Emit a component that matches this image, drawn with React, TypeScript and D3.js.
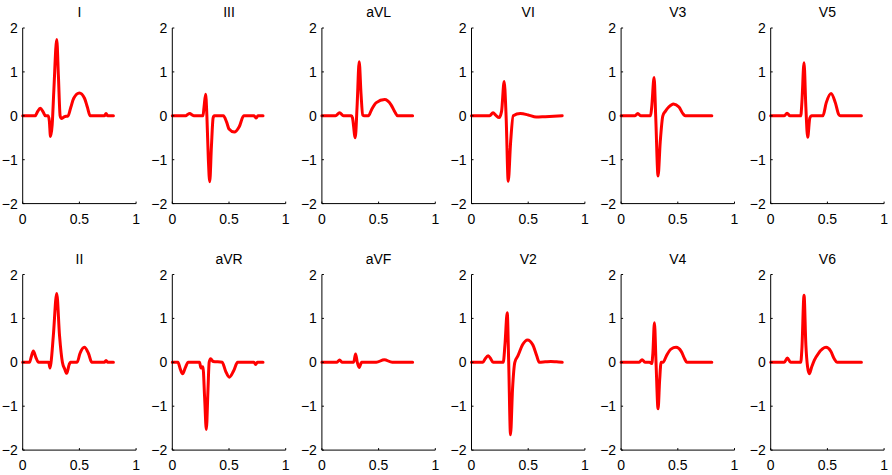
import React from 'react';
import * as d3 from 'd3';

type Pt = [number, number];

// lead traces: [time (s), amplitude (mV)]
const leadI: Pt[] = [[0,0],[0.11,0],[0.13,0.09],[0.155,0.17],[0.18,0.09],[0.2,0],[0.225,0],[0.235,-0.12],[0.245,-0.47],[0.26,-0.2],[0.275,0.6],[0.3,1.74],[0.315,0.9],[0.33,0],[0.34,-0.06],[0.37,-0.02],[0.4,0],[0.425,0.2],[0.45,0.4],[0.5,0.52],[0.545,0.4],[0.57,0.2],[0.595,0],[0.72,0],[0.735,0.05],[0.75,0],[0.8,0]];
const leadIII: Pt[] = [[0,0],[0.12,0],[0.135,0.03],[0.155,0.05],[0.175,0.02],[0.19,0],[0.27,0],[0.28,0.2],[0.294,0.49],[0.305,0],[0.318,-1.0],[0.33,-1.5],[0.345,-0.7],[0.36,-0.05],[0.37,0],[0.45,0],[0.48,-0.15],[0.5,-0.3],[0.547,-0.37],[0.59,-0.25],[0.63,0],[0.72,0],[0.74,-0.05],[0.755,0],[0.8,0]];
const leadAVL: Pt[] = [[0,0],[0.12,0],[0.156,0.07],[0.19,0],[0.26,0],[0.27,-0.05],[0.294,-0.5],[0.31,0.2],[0.329,1.23],[0.345,0.5],[0.36,0.02],[0.374,0],[0.41,0],[0.44,0.15],[0.48,0.3],[0.553,0.37],[0.61,0.25],[0.645,0.08],[0.668,0],[0.8,0]];
const leadV1: Pt[] = [[0,0],[0.16,0],[0.19,0.07],[0.215,0.01],[0.244,-0.04],[0.265,0.1],[0.288,0.78],[0.305,0],[0.324,-1.49],[0.345,-0.6],[0.368,0],[0.43,0.05],[0.5,0.02],[0.57,-0.03],[0.65,-0.02],[0.8,0]];
const leadV3: Pt[] = [[0,0],[0.12,0],[0.147,0.05],[0.175,0],[0.26,0],[0.27,0.2],[0.291,0.87],[0.305,0],[0.326,-1.37],[0.345,-0.6],[0.368,0],[0.39,0.1],[0.42,0.2],[0.462,0.27],[0.51,0.2],[0.545,0.05],[0.565,0],[0.8,0]];
const leadV5: Pt[] = [[0,0],[0.12,0],[0.144,0.06],[0.17,0],[0.265,0],[0.275,0.3],[0.294,1.21],[0.31,0.2],[0.326,-0.49],[0.345,-0.05],[0.36,0],[0.46,0],[0.49,0.3],[0.532,0.51],[0.57,0.3],[0.6,0.03],[0.615,0],[0.8,0]];
const leadII: Pt[] = [[0,0],[0.06,0],[0.075,0.12],[0.094,0.26],[0.115,0.12],[0.14,0],[0.23,0],[0.24,-0.13],[0.25,0],[0.27,0.6],[0.3,1.57],[0.325,0.6],[0.35,0],[0.37,-0.15],[0.388,-0.25],[0.41,-0.05],[0.42,0],[0.48,0],[0.505,0.2],[0.544,0.34],[0.58,0.2],[0.61,0],[0.72,0],[0.735,0.04],[0.75,0],[0.8,0]];
const leadAVR: Pt[] = [[0,0],[0.05,0],[0.07,-0.15],[0.091,-0.26],[0.115,-0.12],[0.14,0],[0.24,0],[0.253,-0.13],[0.27,-0.1],[0.285,-0.8],[0.3,-1.53],[0.315,-0.6],[0.325,0],[0.338,0.08],[0.36,0.02],[0.44,0],[0.47,-0.2],[0.503,-0.34],[0.54,-0.2],[0.576,0],[0.72,0],[0.735,-0.05],[0.75,0],[0.8,0]];
const leadAVF: Pt[] = [[0,0],[0.13,0],[0.156,0.05],[0.18,0],[0.28,0],[0.297,0.19],[0.312,0],[0.329,-0.12],[0.35,0],[0.48,0],[0.55,0.06],[0.62,0],[0.8,0]];
const leadV2: Pt[] = [[0,0],[0.1,0],[0.12,0.08],[0.147,0.15],[0.17,0.08],[0.19,0],[0.28,0],[0.295,0.4],[0.315,1.13],[0.328,0],[0.344,-1.65],[0.362,-0.6],[0.382,0],[0.41,0.15],[0.45,0.4],[0.494,0.51],[0.54,0.4],[0.575,0.15],[0.597,0],[0.65,0.01],[0.7,0.02],[0.75,0.01],[0.8,0]];
const leadV4: Pt[] = [[0,0],[0.16,0],[0.185,0.06],[0.21,0],[0.25,0],[0.27,-0.03],[0.28,0.2],[0.294,0.9],[0.308,0],[0.326,-1.06],[0.34,-0.4],[0.353,0],[0.37,0],[0.4,0.15],[0.44,0.3],[0.485,0.34],[0.53,0.25],[0.56,0.08],[0.58,0],[0.8,0]];
const leadV6: Pt[] = [[0,0],[0.12,0],[0.147,0.1],[0.175,0],[0.265,0],[0.275,0.3],[0.294,1.53],[0.31,0.4],[0.325,-0.1],[0.341,-0.26],[0.36,-0.12],[0.385,0.05],[0.42,0.2],[0.488,0.34],[0.53,0.25],[0.56,0.08],[0.585,0],[0.8,0]];

const leadNames = ['I', 'III', 'aVL', 'VI', 'V3', 'V5', 'II', 'aVR', 'aVF', 'V2', 'V4', 'V6'];
const leadData = [leadI, leadIII, leadAVL, leadV1, leadV3, leadV5, leadII, leadAVR, leadAVF, leadV2, leadV4, leadV6];
const xTicks = [0, 0.5, 1];
const yTicks = [-2, -1, 0, 1, 2];

const W = 892;
const H = 475;
const font = '"Liberation Sans", Arial, sans-serif';

const Panel: React.FC<{ name: string; data: Pt[]; left: number; top: number }> = ({ name, data, left, top }) => {
  const w = 113.4;
  const h = 175.6;
  const x = d3.scaleLinear().domain([0, 1]).range([left, left + w]);
  const y = d3.scaleLinear().domain([-2, 2]).range([top + h, top]);
  const line = d3.line<Pt>()
    .x(d => x(d[0]))
    .y(d => y(d[1]))
    .curve(d3.curveMonotoneX);
  const fmt = (v: number) => (v < 0 ? '\u2212' + Math.abs(v) : String(v));

  return (
    <g>
      <text x={left + w / 2} y={top - 11} textAnchor="middle" fontSize={14} fontFamily={font}>{name}</text>
      <path d={line(data) || ''} fill="none" stroke="#ff0000" strokeWidth={3} strokeLinejoin="round" strokeLinecap="round" />
      <line x1={x(0)} x2={x(0)} y1={y(2)} y2={y(-2)} stroke="#000" strokeWidth={1} />
      <line x1={x(0)} x2={x(1)} y1={y(-2)} y2={y(-2)} stroke="#000" strokeWidth={1} />
      {yTicks.map(t => (
        <g key={'y' + t}>
          <line x1={x(0)} x2={x(0) + 2} y1={y(t)} y2={y(t)} stroke="#000" />
          <text x={x(0) - 5} y={y(t)} dy="0.36em" textAnchor="end" fontSize={14} fontFamily={font}>{fmt(t)}</text>
        </g>
      ))}
      {xTicks.map(t => (
        <g key={'x' + t}>
          <line x1={x(t)} x2={x(t)} y1={y(-2)} y2={y(-2) - 2} stroke="#000" />
          <text x={x(t)} y={y(-2) + 20} textAnchor="middle" fontSize={14} fontFamily={font}>{fmt(t)}</text>
        </g>
      ))}
    </g>
  );
};

export default function App() {
  const colLeft = [22.7, 172.3, 321.9, 471.5, 621.1, 770.7];
  const rowTop = [28, 274.5];
  return (
    <div style={{ position: 'absolute', left: 0, top: 0 }}>
      <svg width={W} height={H} style={{ display: 'block', background: '#fff' }}>
        {leadNames.map((name, i) => (
          <Panel key={name} name={name} data={leadData[i]} left={colLeft[i % 6]} top={rowTop[Math.floor(i / 6)]} />
        ))}
      </svg>
    </div>
  );
}
